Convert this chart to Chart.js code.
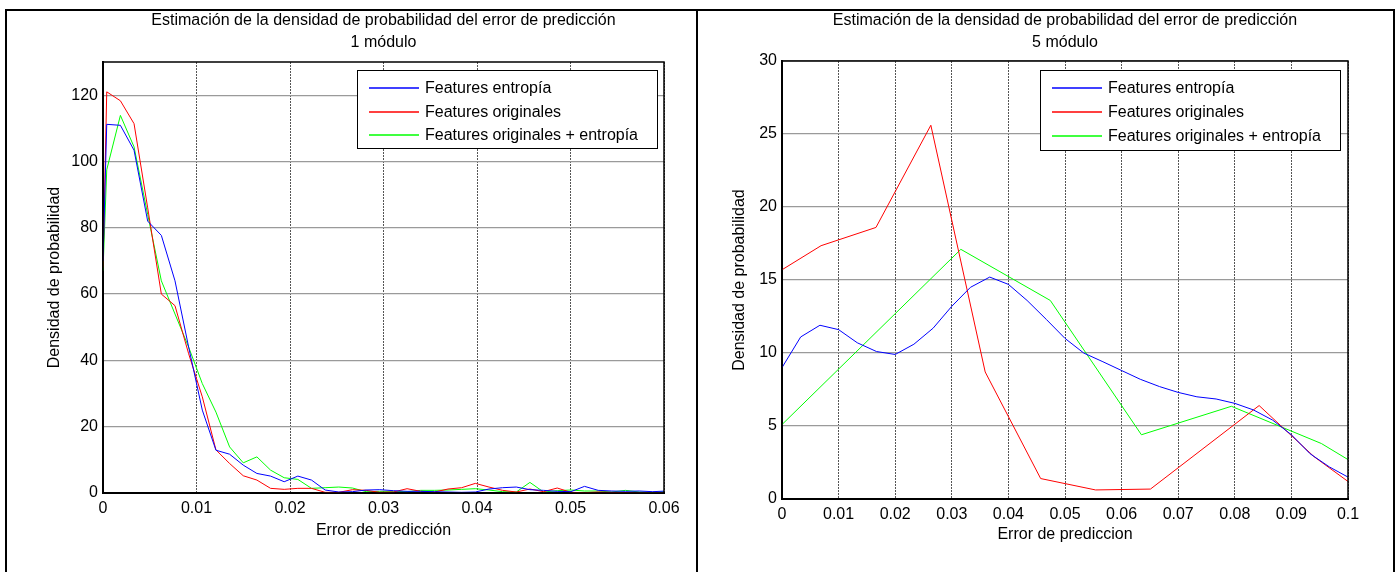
<!DOCTYPE html>
<html>
<head>
<meta charset="utf-8">
<script src="https://cdn.jsdelivr.net/npm/chart.js@4.4.1/dist/chart.umd.min.js"></script>
<style>
    html, body { margin: 0; padding: 0; background: #fff; }
    body { width: 1397px; height: 572px; position: relative; overflow: hidden; }
    canvas { position: absolute; top: 0; }
    #chart1 { left: 6px; }
    #chart5 { left: 698px; }
    .frame { position: absolute; left: 5px; top: 9px; width: 1390px; height: 600px; border: 2px solid #000; border-bottom: none; box-sizing: border-box; pointer-events: none; }
    .divider { position: absolute; left: 696px; top: 9px; width: 2px; height: 600px; background: #000; }
</style>
</head>
<body>
<canvas id="chart1" width="690" height="572"></canvas>
<canvas id="chart5" width="694" height="572"></canvas>
<div class="frame"></div>
<div class="divider"></div>
<script>
// series shared by both panels
const seriesNames = ['Features entropía', 'Features originales', 'Features originales + entropía'];
const seriesColors = ['#0000ff', '#ff0000', '#00ff00'];

// 1 módulo
const errorGrid1 = [0, 0.0004, 0.00186, 0.00332, 0.00478, 0.00624, 0.0077, 0.00916, 0.01062, 0.01208,
    0.01354, 0.015, 0.01646, 0.01792, 0.01938, 0.02084, 0.0223, 0.02376, 0.02522, 0.02668,
    0.02814, 0.0296, 0.03106, 0.03252, 0.03398, 0.03544, 0.0369, 0.03836, 0.03982, 0.04128,
    0.04274, 0.0442, 0.04566, 0.04712, 0.04858, 0.05004, 0.0515, 0.05296, 0.05442, 0.05588,
    0.05734, 0.0588, 0.06026];
const entropy1 = [70, 111.2, 110.9, 103.4, 82, 77.7, 64, 44, 25, 12.9,
    11.7, 8.4, 5.9, 5.1, 3.4, 5.1, 3.9, 0.9, 0.3, 0.4,
    0.9, 1.0, 0.7, 0.5, 0.5, 0.4, 0.3, 0.2, 0.3, 1.2,
    1.6, 1.8, 1.0, 0.8, 0.5, 0.4, 2.0, 0.8, 0.6, 0.5,
    0.6, 0.4, 0.6];
const original1 = [68, 121, 118.3, 111.4, 86, 60, 56.5, 42, 29, 13,
    8.9, 5.2, 3.9, 1.4, 1.1, 1.4, 1.4, 0.2, 0.2, 1.0,
    0.8, 0.2, 0.3, 1.3, 0.5, 0.3, 1.2, 1.6, 2.9, 1.8,
    0.8, 0.3, 1.2, 0.4, 1.5, 0.2, 0.1, 0.3, 0.2, 0.1,
    0, 0, 0];
const combined1 = [67, 97.5, 113.9, 104.4, 84, 64, 54, 44, 33, 24.4,
    13.9, 9.1, 10.9, 6.9, 4.6, 4.1, 1.4, 1.6, 1.8, 1.5,
    0.4, 0.5, 0.5, 0.4, 0.8, 0.8, 0.9, 1.1, 1.3, 0.9,
    0.4, 0.3, 3.2, 0.3, 0.7, 0.9, 0.6, 0.6, 0.3, 0.8,
    0.3, 0.2, 0.4];
const xTicks1 = [0, 0.01, 0.02, 0.03, 0.04, 0.05, 0.06];
const xLabels1 = ['0', '0.01', '0.02', '0.03', '0.04', '0.05', '0.06'];
const yTicks1 = [0, 20, 40, 60, 80, 100, 120];

// 5 módulo
const entropyX5 = [0, 0.0033, 0.0067, 0.01, 0.0133, 0.0167, 0.02, 0.0233, 0.0267, 0.03,
    0.0333, 0.0367, 0.04, 0.0433, 0.0467, 0.05, 0.0533, 0.0567, 0.06, 0.0633,
    0.0667, 0.07, 0.0733, 0.0767, 0.08, 0.0833, 0.0867, 0.09, 0.0933, 0.0967, 0.1];
const entropy5 = [9.0, 11.1, 11.9, 11.6, 10.7, 10.1, 9.9, 10.6, 11.7, 13.2,
    14.5, 15.2, 14.7, 13.6, 12.3, 11.0, 10.0, 9.4, 8.8, 8.2,
    7.7, 7.3, 7.0, 6.85, 6.55, 6.1, 5.4, 4.4, 3.1, 2.2, 1.5];
const originalX5 = [0, 0.0069, 0.0166, 0.0263, 0.0359, 0.0457, 0.0554, 0.0651, 0.0843, 0.094, 0.1];
const original5 = [15.7, 17.35, 18.6, 25.6, 8.7, 1.4, 0.62, 0.68, 6.4, 2.9, 1.2];
const combinedX5 = [0, 0.0316, 0.0474, 0.0635, 0.0794, 0.0953, 0.1];
const combined5 = [5.1, 17.1, 13.6, 4.4, 6.35, 3.8, 2.7];
const xTicks5 = [0, 0.01, 0.02, 0.03, 0.04, 0.05, 0.06, 0.07, 0.08, 0.09, 0.1];
const xLabels5 = ['0', '0.01', '0.02', '0.03', '0.04', '0.05', '0.06', '0.07', '0.08', '0.09', '0.1'];
const yTicks5 = [0, 5, 10, 15, 20, 25, 30];

Chart.defaults.font.family = '"Liberation Sans", Arial, sans-serif';
Chart.defaults.font.size = 16;
Chart.defaults.color = '#000';

// box around the plot area + legend inside it, MATLAB style
const boxAndLegend = {
    id: 'boxAndLegend',
    afterDatasetsDraw(chart, args, opts) {
        const { ctx, chartArea: a } = chart;
        ctx.save();
        ctx.setLineDash([]);
        ctx.strokeStyle = '#000';
        ctx.lineWidth = 1.5;
        ctx.strokeRect(a.left, a.top, a.right - a.left, a.bottom - a.top);

        const left = Math.round(a.right - opts.right - opts.width);
        const top = Math.round(a.top + opts.top);
        ctx.fillStyle = '#fff';
        ctx.fillRect(left, top, opts.width, opts.height);
        ctx.lineWidth = 1;
        ctx.strokeRect(left + 0.5, top + 0.5, opts.width, opts.height);
        ctx.font = '16px "Liberation Sans", Arial, sans-serif';
        ctx.textBaseline = 'middle';
        chart.data.datasets.forEach((ds, i) => {
            const y = Math.round(top + opts.first + i * opts.gap);
            ctx.strokeStyle = ds.borderColor;
            ctx.lineWidth = 1.5;
            ctx.beginPath();
            ctx.moveTo(left + 12, y);
            ctx.lineTo(left + 62, y);
            ctx.stroke();
            ctx.fillStyle = '#000';
            ctx.fillText(ds.label, left + 68, y + 1);
        });
        ctx.restore();
    }
};

function buildDatasets(xs, ys) {
    return ys.map((vals, i) => ({
        label: seriesNames[i],
        data: vals.map((v, k) => ({ x: xs[i][k], y: v })),
        borderColor: seriesColors[i],
        backgroundColor: seriesColors[i],
        borderWidth: 1,
        pointRadius: 0,
        tension: 0,
        fill: false
    }));
}

function drawPanel(id, p) {
    const ctx = document.getElementById(id).getContext('2d');
    new Chart(ctx, {
        type: 'line',
        data: { datasets: buildDatasets(p.xs, p.ys) },
        plugins: [boxAndLegend],
        options: {
            responsive: false,
            animation: false,
            devicePixelRatio: 1,
            layout: { padding: { left: 0, right: p.padRight, top: 0, bottom: 0 } },
            plugins: {
                legend: { display: false },
                tooltip: { enabled: false },
                title: {
                    display: true,
                    fullSize: false,
                    text: p.title,
                    color: '#000',
                    font: { size: 16, weight: 'normal', lineHeight: '22px' },
                    padding: { top: 10, bottom: p.titleGap }
                },
                boxAndLegend: p.legend
            },
            scales: {
                x: {
                    type: 'linear',
                    min: p.xTicks[0],
                    max: p.xTicks[p.xTicks.length - 1],
                    afterBuildTicks: (scale) => { scale.ticks = p.xTicks.map(v => ({ value: v })); },
                    afterFit: (scale) => { scale.height = p.xHeight; },
                    ticks: {
                        padding: 6,
                        maxRotation: 0,
                        autoSkip: false,
                        callback: (value, index) => p.xLabels[index]
                    },
                    grid: { color: '#555', lineWidth: 1, drawTicks: false },
                    border: { color: '#000', width: 2, dash: [2, 1] },
                    title: {
                        display: true,
                        text: p.xTitle,
                        font: { size: 16 },
                        padding: { top: 0, bottom: p.xTitlePad }
                    }
                },
                y: {
                    type: 'linear',
                    min: 0,
                    max: p.yMax,
                    afterBuildTicks: (scale) => { scale.ticks = p.yTicks.map(v => ({ value: v })); },
                    afterFit: (scale) => { scale.width = p.yWidth; },
                    ticks: { padding: 5, autoSkip: false },
                    grid: { color: '#9a9a9a', lineWidth: 1.3, drawTicks: false },
                    border: { color: '#000', width: 2 },
                    title: {
                        display: true,
                        text: 'Densidad de probabilidad',
                        font: { size: 16 },
                        padding: { top: p.yTitlePad, bottom: 0 }
                    }
                }
            }
        }
    });
}

document.addEventListener('DOMContentLoaded', () => {
    drawPanel('chart1', {
        xs: [errorGrid1, errorGrid1, errorGrid1],
        ys: [entropy1, original1, combined1],
        xTicks: xTicks1, xLabels: xLabels1, yTicks: yTicks1, yMax: 130,
        title: ['Estimación de la densidad de probabilidad del error de predicción', '1 módulo'],
        xTitle: 'Error de predicción',
        padRight: 32, titleGap: 8, xHeight: 79, yWidth: 97,
        xTitlePad: 31.4, yTitlePad: 39.4,
        legend: { right: 7, top: 8, width: 300, height: 78, first: 18, gap: 23.5 }
    });
    drawPanel('chart5', {
        xs: [entropyX5, originalX5, combinedX5],
        ys: [entropy5, original5, combined5],
        xTicks: xTicks5, xLabels: xLabels5, yTicks: yTicks5, yMax: 30,
        title: ['Estimación de la densidad de probabilidad del error de predicción', '5 módulo'],
        xTitle: 'Error de prediccion',
        padRight: 44, titleGap: 7, xHeight: 73, yWidth: 84,
        xTitlePad: 27.4, yTitlePad: 32.4,
        legend: { right: 8, top: 9, width: 300, height: 80, first: 18, gap: 24 }
    });
});
</script>
</body>
</html>
